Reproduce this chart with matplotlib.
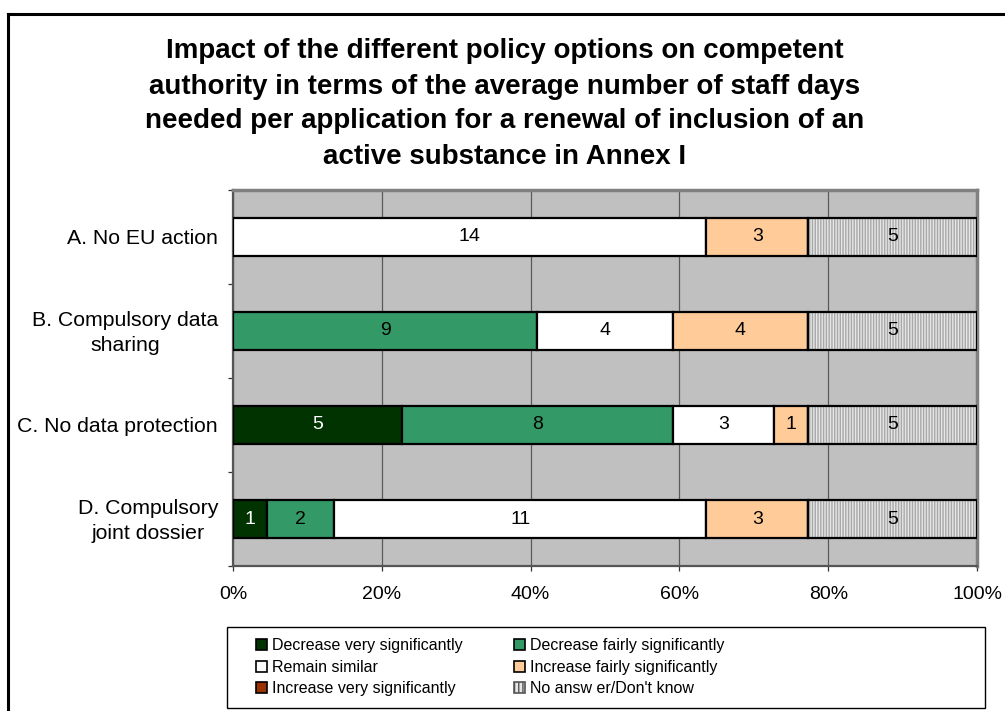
import matplotlib
matplotlib.use("Agg")
import matplotlib.pyplot as plt
import numpy as np
from matplotlib.patches import Patch, Rectangle
from matplotlib.lines import Line2D
from matplotlib.transforms import blended_transform_factory, ScaledTranslation

plt.rcParams['font.family'] = ['Liberation Sans', 'DejaVu Sans']

categories = ["A. No EU action", "B. Compulsory data\nsharing",
              "C. No data protection", "D. Compulsory\njoint dossier"]
series_names = ["Decrease very significantly", "Decrease fairly significantly",
                "Remain similar", "Increase fairly significantly",
                "Increase very significantly", "No answ er/Don't know"]
dec_very = [0, 0, 5, 1]
dec_fairly = [0, 9, 8, 2]
remain = [14, 4, 3, 11]
inc_fairly = [3, 4, 1, 3]
inc_very = [0, 0, 0, 0]
no_answer = [5, 5, 5, 5]
xtick_labels = ["0%", "20%", "40%", "60%", "80%", "100%"]

series = [dec_very, dec_fairly, remain, inc_fairly, inc_very, no_answer]
colors = ["#003300", "#339966", "#FFFFFF", "#FFCC99", "#993300", "#E6E6E6"]
text_colors = ["white", "black", "black", "black", "white", "black"]

leg_size = 11.5
leg_px = leg_size * 100 / 72.0

W, H = 1005, 711
fig = plt.figure(figsize=(W / 100, H / 100), dpi=100)
fig.patch.set_facecolor("white")

# outer frame (left and top edges visible)
fig.add_artist(Line2D([8 / W, 8 / W], [0, 1 - 14 / H], color="black", lw=2.2,
                      transform=fig.transFigure))
fig.add_artist(Line2D([8 / W, 1], [1 - 14 / H, 1 - 14 / H], color="black", lw=2.2,
                      transform=fig.transFigure))

ax = fig.add_axes([233 / W, 1 - 566 / H, (977 - 233) / W, (566 - 190) / H])
ax.set_facecolor("#C0C0C0")

data = np.array(series, dtype=float)
totals = data.sum(axis=0)
frac = data / totals
y = np.arange(len(categories))
left = np.zeros(len(categories))
bar_h = 0.4
for i, name in enumerate(series_names):
    if i == 5:
        ax.barh(y, frac[i], left=left, height=bar_h, color=colors[i],
                edgecolor="#A8A8A8", hatch="||||||", linewidth=0, zorder=3)
        ax.barh(y, frac[i], left=left, height=bar_h, fill=False,
                edgecolor="black", linewidth=1.6, zorder=4)
    else:
        ax.barh(y, frac[i], left=left, height=bar_h, color=colors[i],
                edgecolor="black", linewidth=1.6, zorder=3)
    for j in range(len(categories)):
        if data[i, j] > 0:
            ax.text(left[j] + frac[i, j] / 2, y[j], f"{int(data[i, j])}",
                    ha="center", va="center", fontsize=14, color=text_colors[i],
                    zorder=5)
    left += frac[i]

ax.set_xlim(0, 1)
ax.set_ylim(len(categories) - 0.5, -0.5)
ax.set_xticks(np.linspace(0, 1, 6))
ax.set_xticklabels(xtick_labels, fontsize=14)
ax.xaxis.grid(True, color="#5A5A5A", lw=0.9, zorder=1)
ax.set_axisbelow(True)

ax.set_yticks(np.arange(-0.5, len(categories), 1.0))
ax.set_yticklabels([])
ax.tick_params(axis="y", which="major", length=3.5, width=0.9, color="#333333")
ax.tick_params(axis="x", which="major", length=3.5, width=0.9, color="#333333", pad=11)

# category labels
lab_tr = blended_transform_factory(ax.transAxes, ax.transData) + \
    ScaledTranslation(-15 / 100, -2 / 100, fig.dpi_scale_trans)
for yy, cat in zip(y, categories):
    ax.text(0, yy, cat, transform=lab_tr, ha="right", va="center",
            multialignment="center", fontsize=15.3, linespacing=1.45,
            clip_on=False)

for s in ["top", "right"]:
    ax.spines[s].set_color("#808080")
    ax.spines[s].set_linewidth(2.5)
for s in ["left", "bottom"]:
    ax.spines[s].set_color("#555555")
    ax.spines[s].set_linewidth(1.6)

fig.text(505 / W, 1 - 104 / H,
         "Impact of the different policy options on competent\n"
         "authority in terms of the average number of staff days\n"
         "needed per application for a renewal of inclusion of an\n"
         "active substance in Annex I",
         ha="center", va="center", fontsize=20, fontweight="bold",
         linespacing=1.45)

# legend
fig.add_artist(Rectangle((227 / W, 1 - 708 / H), (985 - 227) / W, (708 - 627) / H,
                         transform=fig.transFigure, facecolor="white",
                         edgecolor="black", lw=1.0))
handles = []
for i, name in enumerate(series_names):
    if i == 5:
        handles.append(Patch(facecolor=colors[i], edgecolor="#555555", hatch="||||",
                             linewidth=1.2, label=name))
    else:
        handles.append(Patch(facecolor=colors[i], edgecolor="black", linewidth=1.2,
                             label=name))
order = [0, 2, 4, 1, 3, 5]
leg = fig.legend([handles[k] for k in order], [series_names[k] for k in order],
                 ncol=2, loc="upper left", bbox_to_anchor=(256 / W, 1 - 638 / H),
                 frameon=False, prop={"size": leg_size},
                 handlelength=11 / leg_px, handleheight=11 / leg_px,
                 handletextpad=5 / leg_px, columnspacing=51 / leg_px,
                 labelspacing=0.42, borderpad=0, borderaxespad=0)

fig.savefig("out.png", dpi=100)
